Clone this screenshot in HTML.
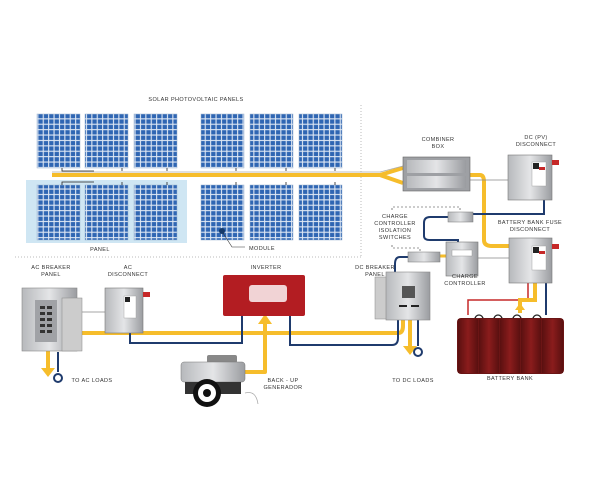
<!DOCTYPE html>
<html><head><meta charset="utf-8"><style>
html,body{margin:0;padding:0;background:#fff}
svg{display:block}
text{font-family:"Liberation Sans",sans-serif;font-size:5.5px;fill:#333;text-anchor:middle;letter-spacing:0.4px}
</style></head><body>
<svg width="600" height="500" viewBox="0 0 600 500" xmlns="http://www.w3.org/2000/svg">
<defs>
<pattern id="cells" width="5.4" height="5.4" patternUnits="userSpaceOnUse">
<rect width="5.4" height="5.4" fill="#dfe8f4"/><rect x="0.6" y="0.6" width="4.3" height="4.3" fill="#2f66b3"/>
</pattern>
<linearGradient id="metal" x1="0" y1="0" x2="1" y2="0"><stop offset="0" stop-color="#b7b9bc"/><stop offset="0.5" stop-color="#e4e5e7"/><stop offset="1" stop-color="#9a9ca0"/></linearGradient>
<linearGradient id="bat" x1="0" y1="0" x2="1" y2="0"><stop offset="0" stop-color="#5a1010"/><stop offset="0.5" stop-color="#8a1c1c"/><stop offset="1" stop-color="#5a1010"/></linearGradient>
</defs>
<line x1="361" y1="105" x2="361" y2="258" stroke="#bbb" stroke-dasharray="1,2"/>
<line x1="15" y1="257" x2="361" y2="257" stroke="#bbb" stroke-dasharray="1,2"/>
<text x="196" y="101" font-size="5">SOLAR PHOTOVOLTAIC PANELS</text>
<rect x="26" y="180" width="161" height="63" fill="#cfe6f3"/>
<g fill="url(#cells)" stroke="#9db3cf" stroke-width="0.5">
<rect x="37" y="114" width="43" height="54"/><rect x="85" y="114" width="43" height="54"/><rect x="134" y="114" width="43" height="54"/>
<rect x="201" y="114" width="43" height="54"/><rect x="250" y="114" width="43" height="54"/><rect x="299" y="114" width="43" height="54"/>
<rect x="37" y="185" width="43" height="55"/><rect x="85" y="185" width="43" height="55"/><rect x="134" y="185" width="43" height="55"/>
<rect x="201" y="185" width="43" height="55"/><rect x="250" y="185" width="43" height="55"/><rect x="299" y="185" width="43" height="55"/>
</g>
<path d="M52 175 H380 L403 168 M380 175 L403 183" stroke="#f6bd2b" stroke-width="4" fill="none"/>
<path d="M52 172 H380 L403 166" stroke="#aaa" stroke-width="0.8" fill="none"/>
<g stroke="#222" stroke-width="0.8" fill="none">
<path d="M62 168 v3 h32"/><path d="M122 168 v3"/><path d="M167 168 v3"/><path d="M236 168 v3"/><path d="M286 168 v3"/><path d="M335 168 v3"/>
<path d="M62 185 v-3 h32"/><path d="M122 185 v-3"/><path d="M167 185 v-3"/><path d="M236 185 v-3"/><path d="M286 185 v-3"/><path d="M335 185 v-3"/>
</g>
<circle cx="222" cy="231" r="3" fill="#163a6a"/>
<path d="M223 233 L232 247 H245" stroke="#333" stroke-width="0.6" fill="none"/>
<text x="100" y="251">PANEL</text><text x="262" y="250">MODULE</text>
<path d="M470 175 H480 Q484 175 484 182 V240 Q484 246 492 246 H509" stroke="#f6bd2b" stroke-width="4" fill="none"/>
<path d="M470 180 H508" stroke="#888" stroke-width="0.8"/>
<path d="M544 200 V214 H472 M448 217 H430 Q424 217 424 223 V236 Q424 240 430 240 H458 V243" stroke="#1f3b6d" stroke-width="2" fill="none"/>
<path d="M478 258 H509" stroke="#888" stroke-width="0.8"/>
<path d="M446 256 H440 M408 257 H400 Q395 257 395 264 V272" stroke="#1f3b6d" stroke-width="2" fill="none"/>
<path d="M440 256 H446" stroke="#f6bd2b" stroke-width="3"/>
<path d="M528 283 V300 H468 V315" stroke="#c62828" stroke-width="1.5" fill="none"/>
<path d="M535 283 V300 H520 V313" stroke="#f6bd2b" stroke-width="4" fill="none"/>
<path d="M520 303 l-5 7 h10 z" fill="#f6bd2b"/>
<path d="M546 283 V315" stroke="#1f3b6d" stroke-width="2" fill="none"/>
<path d="M392 210 V207 H460 V213 M392 245 V248 H420 V252" stroke="#333" stroke-width="0.6" stroke-dasharray="2,2" fill="none"/>
<text x="395" y="218">CHARGE</text><text x="395" y="225">CONTROLLER</text><text x="395" y="232">ISOLATION</text><text x="395" y="239">SWITCHES</text>
<rect x="448" y="212" width="25" height="10" fill="url(#metal)" stroke="#777" stroke-width="0.5"/>
<rect x="408" y="252" width="32" height="10" fill="url(#metal)" stroke="#777" stroke-width="0.5"/>
<text x="438" y="141">COMBINER</text><text x="438" y="148">BOX</text>
<rect x="403" y="157" width="67" height="34" fill="#9ea0a4" stroke="#666" stroke-width="0.6"/>
<rect x="407" y="160" width="59" height="13" fill="url(#metal)"/><rect x="407" y="176" width="59" height="12" fill="url(#metal)"/>
<text x="536" y="139">DC (PV)</text><text x="536" y="146">DISCONNECT</text>
<rect x="508" y="155" width="44" height="45" fill="url(#metal)" stroke="#777" stroke-width="0.6"/>
<rect x="532" y="162" width="14" height="24" fill="#fff" stroke="#999" stroke-width="0.4"/><rect x="533" y="163" width="6" height="6" fill="#222"/><rect x="539" y="167" width="6" height="3" fill="#c62828"/>
<rect x="552" y="160" width="7" height="5" fill="#c62828"/>
<text x="530" y="224">BATTERY BANK FUSE</text><text x="530" y="231">DISCONNECT</text>
<rect x="509" y="238" width="43" height="45" fill="url(#metal)" stroke="#777" stroke-width="0.6"/>
<rect x="532" y="246" width="14" height="24" fill="#fff" stroke="#999" stroke-width="0.4"/><rect x="533" y="247" width="6" height="6" fill="#222"/><rect x="539" y="251" width="6" height="3" fill="#c62828"/>
<rect x="552" y="244" width="7" height="5" fill="#c62828"/>
<rect x="446" y="242" width="32" height="34" fill="url(#metal)" stroke="#777" stroke-width="0.6"/>
<rect x="452" y="250" width="20" height="6" fill="#fff" stroke="#888" stroke-width="0.4"/>
<text x="465" y="278">CHARGE</text><text x="465" y="285">CONTROLLER</text>
<path d="M82 333 H398 Q403 333 403 326 V320" stroke="#f6bd2b" stroke-width="4" fill="none"/>
<path d="M130 320 V343 H242 V316 M290 316 V345 H392 Q398 345 398 338 V320" stroke="#1f3b6d" stroke-width="2" fill="none"/>
<path d="M82 312 H105" stroke="#888" stroke-width="0.8"/>
<path d="M245 372 H265 V324" stroke="#f6bd2b" stroke-width="4" fill="none" stroke-linejoin="round"/>
<path d="M265 314 l-7 10 h14 z" fill="#f6bd2b"/>
<path d="M48 350 V368" stroke="#f6bd2b" stroke-width="4" fill="none"/>
<path d="M48 377 l-7 -9 h14 z" fill="#f6bd2b"/>
<path d="M58 352 V372" stroke="#1f3b6d" stroke-width="2"/><circle cx="58" cy="378" r="4" fill="none" stroke="#1f3b6d" stroke-width="2"/>
<path d="M410 320 V346" stroke="#f6bd2b" stroke-width="4" fill="none"/>
<path d="M410 355 l-7 -9 h14 z" fill="#f6bd2b"/>
<path d="M418 320 V346" stroke="#1f3b6d" stroke-width="2"/><circle cx="418" cy="352" r="4" fill="none" stroke="#1f3b6d" stroke-width="2"/>
<text x="92" y="382">TO AC LOADS</text><text x="413" y="382">TO DC LOADS</text>
<text x="51" y="269">AC BREAKER</text><text x="51" y="276">PANEL</text>
<rect x="22" y="288" width="55" height="63" fill="url(#metal)" stroke="#888" stroke-width="0.6"/>
<rect x="62" y="298" width="20" height="53" fill="#ccc" stroke="#888" stroke-width="0.5"/>
<rect x="35" y="300" width="22" height="42" fill="#a0a2a6"/>
<g fill="#333"><rect x="40" y="306" width="5" height="3"/><rect x="47" y="306" width="5" height="3"/><rect x="40" y="312" width="5" height="3"/><rect x="47" y="312" width="5" height="3"/><rect x="40" y="318" width="5" height="3"/><rect x="47" y="318" width="5" height="3"/><rect x="40" y="324" width="5" height="3"/><rect x="47" y="324" width="5" height="3"/><rect x="40" y="330" width="5" height="3"/><rect x="47" y="330" width="5" height="3"/></g>
<text x="128" y="269">AC</text><text x="128" y="276">DISCONNECT</text>
<rect x="105" y="288" width="38" height="45" fill="url(#metal)" stroke="#777" stroke-width="0.6"/>
<rect x="124" y="296" width="12" height="22" fill="#fff" stroke="#999" stroke-width="0.4"/><rect x="125" y="297" width="5" height="5" fill="#222"/>
<rect x="143" y="292" width="7" height="5" fill="#c62828"/>
<text x="266" y="269">INVERTER</text>
<rect x="223" y="275" width="82" height="41" rx="2" fill="#b31d22"/>
<rect x="249" y="285" width="38" height="17" rx="3" fill="#f1d3d5"/>
<text x="375" y="269">DC BREAKER</text><text x="375" y="276">PANEL</text>
<rect x="375" y="277" width="12" height="42" fill="#ccc" stroke="#888" stroke-width="0.5"/>
<rect x="386" y="272" width="44" height="48" fill="url(#metal)" stroke="#888" stroke-width="0.6"/>
<rect x="402" y="286" width="13" height="12" fill="#555"/><rect x="399" y="305" width="8" height="2" fill="#222"/><rect x="411" y="305" width="8" height="2" fill="#222"/>
<g fill="none" stroke="#222" stroke-width="1.3"><circle cx="479" cy="319" r="4"/><circle cx="498" cy="319" r="4"/><circle cx="517" cy="319" r="4"/><circle cx="537" cy="319" r="4"/></g>
<rect x="457" y="318" width="107" height="56" rx="4" fill="#6b1515"/>
<g fill="url(#bat)"><rect x="458" y="319" width="20" height="54"/><rect x="479" y="319" width="20" height="54"/><rect x="500" y="319" width="20" height="54"/><rect x="521" y="319" width="20" height="54"/><rect x="542" y="319" width="21" height="54"/></g>
<text x="510" y="380">BATTERY BANK</text>
<rect x="207" y="355" width="30" height="8" rx="2" fill="#888"/>
<rect x="181" y="362" width="64" height="20" rx="3" fill="url(#metal)" stroke="#777" stroke-width="0.5"/>
<rect x="185" y="382" width="56" height="12" fill="#333"/>
<circle cx="207" cy="393" r="14" fill="#111"/><circle cx="207" cy="393" r="9" fill="#fff"/><circle cx="207" cy="393" r="4" fill="#111"/>
<path d="M245 393 Q256 390 258 404" stroke="#aaa" stroke-width="0.8" fill="none"/>
<text x="283" y="382">BACK - UP</text><text x="283" y="389">GENERADOR</text>
</svg>
</body></html>
